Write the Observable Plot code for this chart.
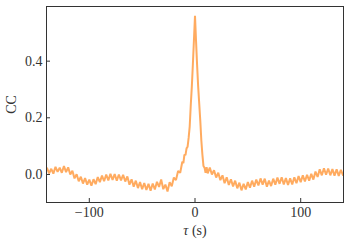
<!DOCTYPE html>
<html><head><meta charset="utf-8">
<script src="https://cdn.jsdelivr.net/npm/d3@7"></script>
<script src="https://cdn.jsdelivr.net/npm/@observablehq/plot@0.6"></script>
<style>body{margin:0;background:#fff}</style>
</head><body><div id="chart"></div>
<script>
const tau = [-140,-138,-136,-134,-132,-130,-128,-126,-124,-122,-120,-118,-116,-114,-112,-110,-108,-106,-104,-102,-100,
-98,-96,-94,-92,-90,-88,-86,-84,-82,-80,-78,-76,-74,-72,-70,-68,-66,-64,-62,-60,-58,-56,-54,-52,-50,-48,-46,-44,-42,-40,
-38,-36,-34,-32,-30,-28,-26,-24,-22,-20,-18,-16,-14,-12,-11,-10,-9,-8,-7,-6,-5,-4,-3,-2,-1,0,1,2,3,4,5,6,7,8,9,10,11,12,
14,16,18,20,22,24,26,28,30,32,34,36,38,40,42,44,46,48,50,52,54,56,58,60,62,64,66,68,70,72,74,76,78,80,82,84,86,88,90,
92,94,96,98,100,102,104,106,108,110,112,114,116,118,120,122,124,126,128,130,132,134,136,138,140];
const cc = [0.022,0.004,0.020,0.003,0.027,0.009,0.024,0.006,0.030,0.008,0.025,0.000,0.013,-0.014,0.001,-0.024,-0.008,-0.032,-0.013,-0.036,-0.018,
-0.040,-0.017,-0.034,-0.009,-0.027,-0.004,-0.024,0.000,-0.021,0.002,-0.019,0.001,-0.022,0.000,-0.021,-0.001,-0.025,-0.007,-0.036,-0.017,-0.043,-0.022,-0.048,-0.027,-0.052,-0.030,-0.055,-0.033,-0.057,-0.032,
-0.053,-0.026,-0.044,-0.018,-0.052,-0.036,-0.060,-0.027,-0.042,-0.011,-0.020,0.012,0.006,0.045,0.040,0.070,0.068,0.092,0.098,0.130,0.170,0.245,0.310,0.390,0.475,0.560,0.470,0.385,0.310,0.250,0.190,0.120,0.070,0.030,0.024,0.006,0.026,0.004,
0.024,0.000,0.015,-0.011,0.006,-0.020,-0.003,-0.031,-0.010,-0.037,-0.017,-0.042,-0.022,-0.049,-0.029,-0.056,-0.033,-0.053,-0.027,-0.047,-0.022,-0.043,-0.018,-0.039,-0.014,-0.036,-0.015,-0.043,-0.022,-0.041,-0.015,-0.036,-0.011,-0.033,-0.010,-0.035,-0.013,-0.037,-0.014,
-0.035,-0.010,-0.031,-0.006,-0.027,-0.003,-0.025,-0.001,-0.022,0.002,-0.018,0.010,-0.009,0.018,-0.003,0.022,-0.001,0.021,-0.003,0.019,-0.004,0.018,-0.005,0.016,-0.002];
const xTicks = [-100, 0, 100];
const yTicks = [0, 0.2, 0.4];
const data = tau.map((t, i) => ({tau: t, cc: cc[i]}));
const fmtX = d => d < 0 ? "\u2212" + Math.abs(d) : String(d);
const plot = Plot.plot({
  width: 349, height: 246,
  marginLeft: 46, marginRight: 6, marginTop: 6, marginBottom: 44,
  style: {fontFamily: "'Liberation Serif', serif", fontSize: "14px", color: "#333", background: "#fff"},
  x: {domain: [-140.5, 140.5]},
  y: {domain: [-0.099, 0.593]},
  marks: [
    Plot.line(data, {x: "tau", y: "cc", stroke: "#ff7f0e", strokeOpacity: 0.66, strokeWidth: 2, strokeLinejoin: "miter"}),
    Plot.frame({stroke: "#333"}),
    Plot.tickX(xTicks, {x: d => d, insetTop: 192, stroke: "#333"}),
    Plot.tickY(yTicks, {y: d => d, insetRight: 293, stroke: "#333"}),
    Plot.axisX(xTicks, {tickSize: 0, tickPadding: 5, tickFormat: fmtX, label: "τ (s)", labelAnchor: "center", labelArrow: "none", labelOffset: 32, fontSize: 14}),
    Plot.axisY(yTicks, {tickSize: 0, tickPadding: 4, tickFormat: d => d.toFixed(1), label: "CC", labelAnchor: "center", labelOffset: 40, labelArrow: "none", fontSize: 14})
  ]
});
document.getElementById("chart").appendChild(plot);
// italicize tau in the x label
plot.querySelectorAll("text").forEach(t => {
  if (t.textContent.trim() === "τ (s)") {
    t.textContent = "";
    const a = document.createElementNS("http://www.w3.org/2000/svg", "tspan");
    a.setAttribute("font-style", "italic"); a.textContent = "τ";
    const b = document.createElementNS("http://www.w3.org/2000/svg", "tspan");
    b.textContent = " (s)";
    t.appendChild(a); t.appendChild(b);
  }
});
</script>
</body></html>
